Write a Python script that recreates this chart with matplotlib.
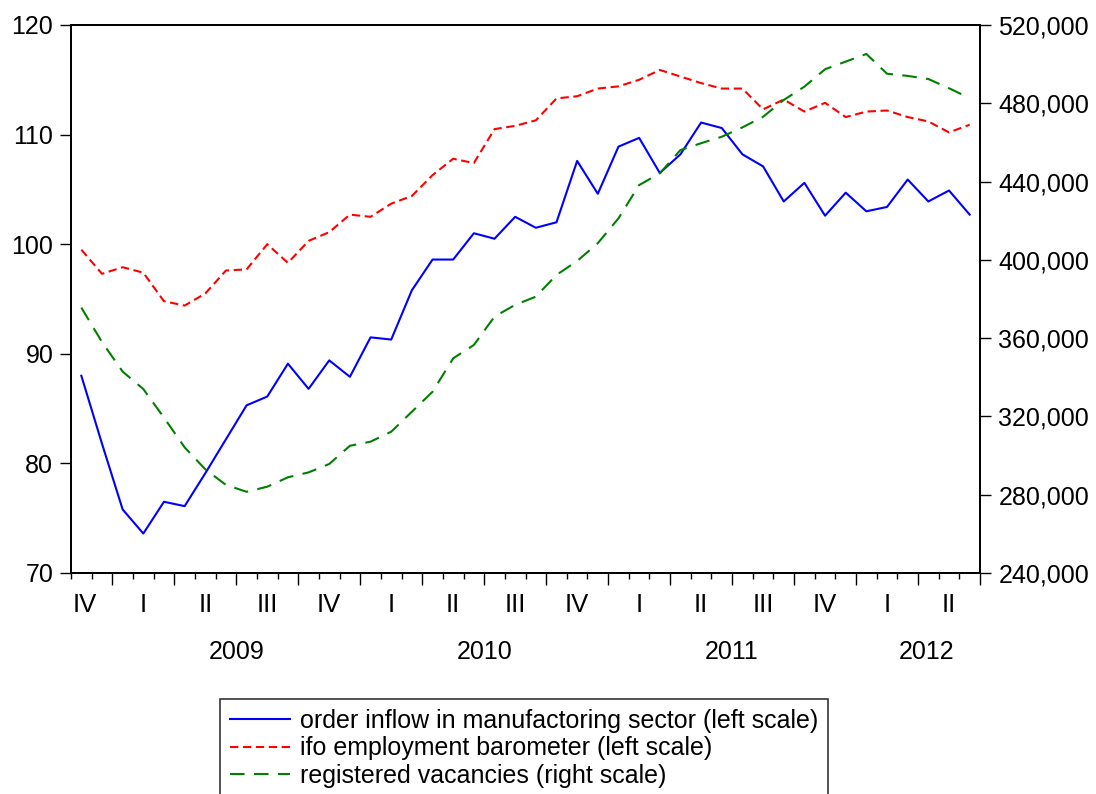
import matplotlib
matplotlib.use("Agg")
import matplotlib.pyplot as plt
import matplotlib.ticker as mticker
import numpy as np
import pandas as pd

plt.rcParams['font.family'] = ['Liberation Sans', 'DejaVu Sans']

# monthly data, Nov 2008 - Jun 2012
months = pd.period_range('2008-11', '2012-06', freq='M')

order_inflow = [88.0, 81.8, 75.8, 73.6, 76.5, 76.1, 79.1, 82.2, 85.3, 86.1,
                89.1, 86.8, 89.4, 87.9, 91.5, 91.3, 95.8, 98.6, 98.6, 101.0,
                100.5, 102.5, 101.5, 102.0, 107.6, 104.6, 108.9, 109.7, 106.5, 108.2,
                111.1, 110.6, 108.2, 107.1, 103.9, 105.6, 102.6, 104.7, 103.0, 103.4,
                105.9, 103.9, 104.9, 102.7]

ifo_employment = [99.5, 97.3, 97.9, 97.4, 94.8, 94.4, 95.5, 97.6, 97.7, 100.0,
                  98.3, 100.3, 101.1, 102.7, 102.5, 103.7, 104.4, 106.3, 107.8, 107.4,
                  110.5, 110.8, 111.3, 113.3, 113.5, 114.2, 114.4, 115.0, 115.9, 115.3,
                  114.7, 114.2, 114.2, 112.3, 113.2, 112.1, 112.9, 111.6, 112.1, 112.2,
                  111.6, 111.2, 110.2, 110.9]

vacancies = [375600, 358000, 342900, 334000, 319400, 304200, 293000, 285000, 281500, 284100,
             288900, 291400, 295700, 305000, 307100, 312200, 322400, 332600, 349700, 356500,
             371000, 377000, 381200, 392300, 399400, 408500, 421200, 438200, 444200, 456100,
             459600, 462900, 467700, 473100, 481700, 488500, 497400, 501300, 505200, 495100,
             494000, 492400, 487700, 482600]

roman = {1: 'I', 2: 'II', 3: 'III', 4: 'IV'}

x = np.arange(len(months))

fig = plt.figure(figsize=(10.96, 7.94), dpi=100)
ax = fig.add_axes([71 / 1096, 1 - 573 / 794, 909 / 1096, 548 / 794])
ax2 = ax.twinx()

l1, = ax.plot(x, order_inflow, color='#0000ff', lw=1.5,
              label='order inflow in manufactoring sector (left scale)')
l2, = ax.plot(x, ifo_employment, color='#ff0000', lw=1.5, dashes=(4.0, 2.2),
              label='ifo employment barometer (left scale)')
l3, = ax2.plot(x, vacancies, color='#008000', lw=1.5, dashes=(7.0, 4.5),
               label='registered vacancies (right scale)')

ax.set_xlim(-0.5, len(months) - 0.5)
ax.set_ylim(70, 120)
ax.set_yticks(range(70, 121, 10))
ax2.set_ylim(240000, 520000)
ax2.set_yticks(range(240000, 520001, 40000))
ax2.yaxis.set_major_formatter(mticker.FuncFormatter(lambda v, p: f'{int(v):,}'))

# quarter and year boundaries / labels
q = np.array([m.quarter for m in months])
yr = np.array([m.year for m in months])
qkey = yr * 10 + q
q_bounds = [i - 0.5 for i in range(1, len(months)) if qkey[i] != qkey[i - 1]] + [len(months) - 0.5]
ax.set_xticks(q_bounds)
ax.set_xticks(np.arange(-0.5, len(months)), minor=True)
ax.xaxis.set_major_formatter(mticker.NullFormatter())

for spine in ['top', 'bottom', 'left', 'right']:
    ax.spines[spine].set_linewidth(1.3)
    ax2.spines[spine].set_linewidth(1.3)

ax.tick_params(axis='x', which='major', direction='out', length=8.5, width=1.0)
ax.tick_params(axis='x', which='minor', direction='out', length=4.3, width=1.0)
ax.tick_params(axis='y', direction='out', length=7.7, width=1.0, labelsize=18, pad=5)
ax2.tick_params(axis='y', direction='out', length=7.7, width=1.0, labelsize=18, pad=5.5)

tr = ax.get_xaxis_transform()
nudge_q = {0: -0.32}
for k, key in enumerate(pd.unique(qkey)):
    idx = np.where(qkey == key)[0]
    pos = idx.mean() + nudge_q.get(k, 0)
    ax.text(pos, -0.0575, roman[key % 10], transform=tr, ha='center', va='center', fontsize=18.5)

nudge_y = {2012: 0.4}
for year in pd.unique(yr):
    idx = np.where(yr == year)[0]
    if len(idx) < 3:
        continue
    pos = idx.mean() + nudge_y.get(year, 0)
    ax.text(pos, -0.1436, str(year), transform=tr, ha='center', va='center', fontsize=18)

leg = fig.legend(handles=[l1, l2, l3], loc='upper left',
                 bbox_to_anchor=(220 / 1096, 1 - 699 / 794), borderaxespad=0,
                 fontsize=18, frameon=True, fancybox=False, edgecolor='black',
                 handlelength=2.4, handletextpad=0.4, labelspacing=0.13, borderpad=0.4)
leg.get_frame().set_linewidth(1.2)

fig.savefig('out.png', dpi=100)
